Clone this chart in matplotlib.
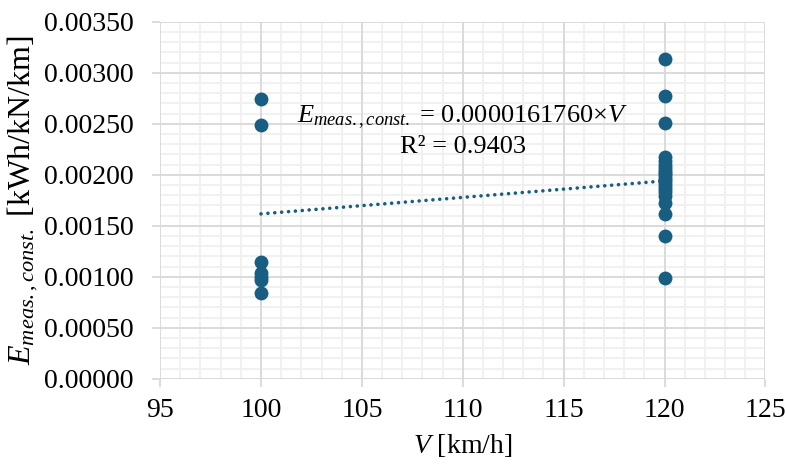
import numpy as np
import matplotlib
matplotlib.use('Agg')
import matplotlib.pyplot as plt
from matplotlib.ticker import MultipleLocator, FormatStrFormatter

plt.rcParams['font.family'] = ['Liberation Serif', 'DejaVu Serif']
plt.rcParams['mathtext.fontset'] = 'custom'
plt.rcParams['mathtext.rm'] = 'Liberation Serif'
plt.rcParams['mathtext.it'] = 'Liberation Serif:italic'

# measured points
v_100 = [100] * 7
e_100 = [0.00274, 0.00249, 0.00115, 0.00104, 0.00100, 0.00097, 0.00084]
v_120 = [120] * 21
e_120 = [0.00314, 0.00277, 0.00251, 0.00218, 0.00214, 0.00210, 0.00207, 0.00204,
         0.00202, 0.00200, 0.00197, 0.00195, 0.00192, 0.00189, 0.00186, 0.00183,
         0.00179, 0.00172, 0.00162, 0.00140, 0.00099]

slope = 0.0000161760
trend_v = np.array([100, 120])

color = '#175e82'
x_min, x_max = 95, 125
y_min, y_max = 0, 0.0035

fig = plt.figure(figsize=(7.85, 4.66), dpi=100)
ax = fig.add_axes([0.204, 0.187, 0.771, 0.766])

# grid: minor first, then major on top
for xv in np.arange(x_min, x_max + 0.5, 1):
    ax.axvline(xv, color='#f0f0f0', linewidth=1.3, zorder=0)
for yv in np.arange(y_min, y_max + 0.00005, 0.0001):
    ax.axhline(yv, color='#f0f0f0', linewidth=1.3, zorder=0)
for xv in np.arange(x_min, x_max + 0.5, 5):
    ax.axvline(xv, color='#d9d9d9', linewidth=1.3, zorder=0.5)
for yv in np.arange(y_min, y_max + 0.00005, 0.0005):
    ax.axhline(yv, color='#d9d9d9', linewidth=1.3, zorder=0.5)

ax.scatter(v_100 + v_120, e_100 + e_120, s=100, color=color, zorder=3, linewidths=0)
ax.plot(trend_v, slope * trend_v, linestyle=(0, (0.01, 1.9)), dash_capstyle='round',
        color=color, linewidth=2.6, zorder=2)

ax.set_xlim(x_min, x_max)
ax.set_ylim(y_min, y_max)
ax.xaxis.set_major_locator(MultipleLocator(5))
ax.yaxis.set_major_locator(MultipleLocator(0.0005))
ax.yaxis.set_major_formatter(FormatStrFormatter('%.5f'))

for s in ax.spines.values():
    s.set_visible(False)
ax.tick_params(which='major', direction='out', length=6, width=1.3, color='#d9d9d9', labelsize=20)
ax.tick_params(axis='y', pad=13)
ax.tick_params(axis='x', pad=8)

ax.set_xlabel(r'$V$ [km/h]', fontsize=20, labelpad=6)
ax.set_ylabel(r'$E_{meas.,const.}$ [kWh/kN/km]', fontsize=23, labelpad=3)

ax.text(110.0, 0.00257, r'$E_{meas.,const.}$ = 0.0000161760×$V$', fontsize=19, ha='center', va='center')
ax.text(110.0, 0.00227, 'R² = 0.9403', fontsize=19, ha='center', va='center')

fig.savefig('out.png', dpi=100)
